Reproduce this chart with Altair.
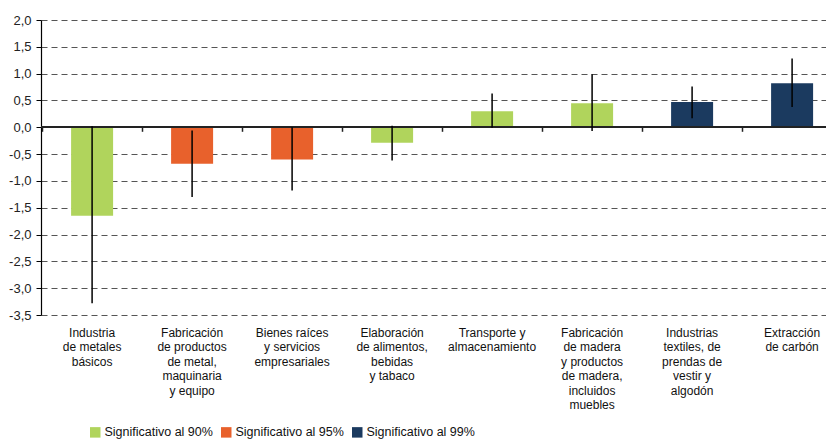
import altair as alt
import pandas as pd

categories = [
    "Industria\nde metales\nbásicos",
    "Fabricación\nde productos\nde metal,\nmaquinaria\ny equipo",
    "Bienes raíces\ny servicios\nempresariales",
    "Elaboración\nde alimentos,\nbebidas\ny tabaco",
    "Transporte y\nalmacenamiento",
    "Fabricación\nde madera\ny productos\nde madera,\nincluidos\nmuebles",
    "Industrias\ntextiles, de\nprendas de\nvestir y\nalgodón",
    "Extracción\nde carbón",
]
values = [-1.65, -0.68, -0.60, -0.29, 0.30, 0.45, 0.47, 0.82]
err_low = [-3.28, -1.30, -1.18, -0.62, -0.01, -0.07, 0.17, 0.38]
err_high = [0.02, -0.06, 0.0, 0.03, 0.63, 0.99, 0.76, 1.28]
significance = [
    "Significativo al 90%", "Significativo al 95%", "Significativo al 95%",
    "Significativo al 90%", "Significativo al 90%", "Significativo al 90%",
    "Significativo al 99%", "Significativo al 99%",
]
sig_levels = ["Significativo al 90%", "Significativo al 95%", "Significativo al 99%"]
sig_colors = ["#B0D45C", "#E8612C", "#1B3A5F"]
y_ticks = [2.0, 1.5, 1.0, 0.5, 0.0, -0.5, -1.0, -1.5, -2.0, -2.5, -3.0, -3.5]

df = pd.DataFrame({
    "cat": categories,
    "value": values,
    "lo": err_low,
    "hi": err_high,
    "sig": significance,
})

FONT = "Liberation Sans, Arial, sans-serif"

x_scale = alt.Scale(paddingInner=0.58, paddingOuter=0.215, align=0.70)
y_scale = alt.Scale(domain=[-3.5, 2.0], nice=False, zero=False)

y_label_expr = (
    "datum.value < 0 ? '-' + replace(format(-datum.value, '.1f'), '.', ',') "
    ": replace(format(datum.value, '.1f'), '.', ',')"
)

bars = alt.Chart(df).mark_bar().encode(
    x=alt.X(
        "cat:N", sort=categories, scale=x_scale,
        axis=alt.Axis(
            title=None, labelAngle=0, domain=False, ticks=False, grid=False,
            labelExpr="split(datum.label, '\\n')",
            labelFont=FONT, labelFontSize=12, labelLineHeight=14.5,
            labelPadding=12, labelColor="#111", labelBaseline="top",
            labelLimit=0,
        ),
    ),
    y=alt.Y(
        "value:Q", scale=y_scale,
        axis=alt.Axis(
            title=None, values=y_ticks, tickCount=20, labelExpr=y_label_expr,
            labelOverlap=False,
            grid=True, gridDash=[6, 4], gridColor="#555", gridWidth=1.2,
            domainColor="#000", domainWidth=1.2, tickColor="#000", tickSize=5,
            labelPadding=5, labelFont=FONT, labelFontSize=13, labelColor="#222",
        ),
    ),
    color=alt.Color(
        "sig:N",
        scale=alt.Scale(domain=sig_levels, range=sig_colors),
        legend=alt.Legend(
            title=None, orient="none", legendX=48, legendY=406,
            direction="horizontal", symbolType="square", symbolSize=110,
            symbolStrokeWidth=0, symbolOpacity=1, labelFontSize=12.5,
            labelFont=FONT, labelColor="#111", labelOffset=3,
            columnPadding=7,
        ),
    ),
)

zero = alt.Chart(df).mark_rule(color="#222", strokeWidth=1.5).encode(
    y=alt.datum(0)
)

errs = alt.Chart(df).mark_rule(color="#000", strokeWidth=1.5).encode(
    x=alt.X(
        "cat:N", sort=categories,
        axis=alt.Axis(
            title=None, orient="bottom", offset=-187.7, labels=False,
            domain=False, ticks=True, tickSize=4, bandPosition=0,
            tickOffset=-29, tickColor="#222", tickWidth=1.5, grid=False,
        ),
    ),
    y=alt.Y("lo:Q"),
    y2=alt.Y2("hi:Q"),
)

chart = (
    alt.layer(bars, zero, errs)
    .resolve_axis(x="independent")
    .properties(
        width=785, height=295,
        autosize=alt.AutoSizeParams(type="none"),
        padding={"left": 33, "top": 12, "right": 0, "bottom": 128},
    )
    .configure_view(stroke=None)
)

chart.save("out.html", embed_options={"renderer": "svg", "actions": False})
